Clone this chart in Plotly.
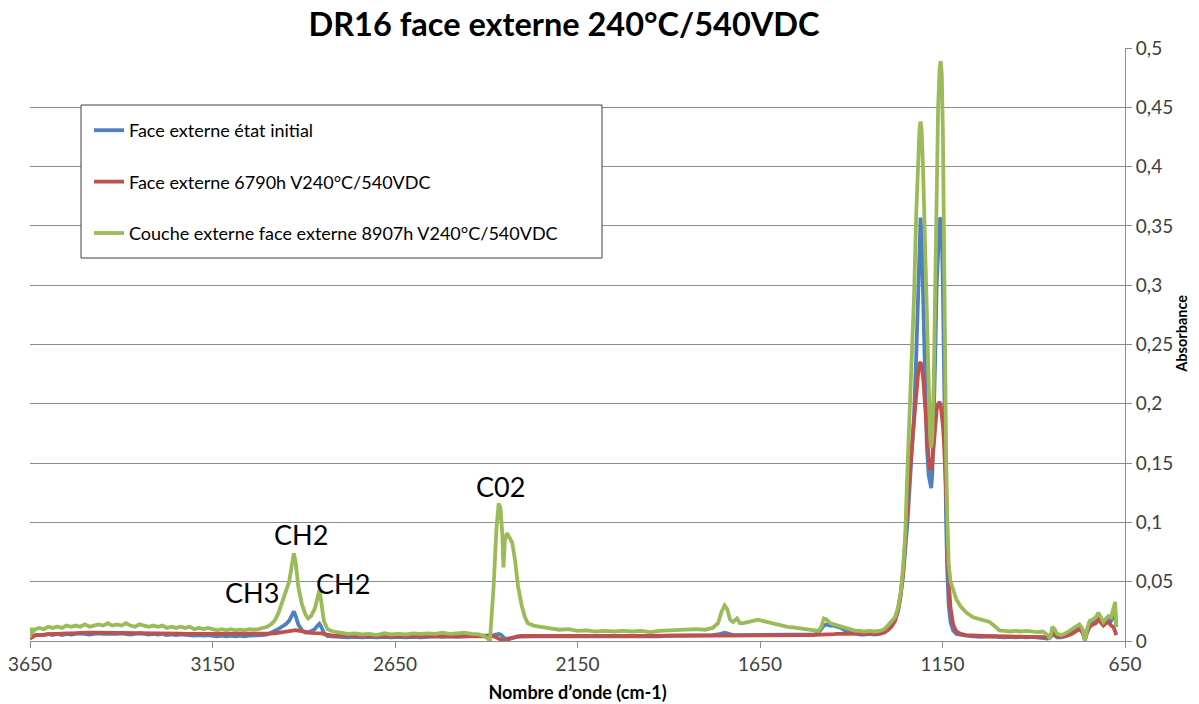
import plotly.graph_objects as go

# ---------------- data ----------------
wavenumber = [
    3650, 3646, 3642, 3635, 3625, 3612, 3600, 3588, 3575, 3562, 3550, 3537, 3525, 3512, 3500, 3487,
    3475, 3462, 3450, 3437, 3425, 3412, 3400, 3387, 3375, 3362, 3350, 3337, 3325, 3312, 3300, 3287,
    3275, 3262, 3250, 3237, 3225, 3212, 3200, 3187, 3175, 3162, 3150, 3137, 3125, 3112, 3100, 3087,
    3075, 3062, 3050, 3037, 3025, 3012, 3000,
    2990, 2980, 2970, 2960, 2950, 2940, 2932, 2927, 2922, 2915, 2905, 2895, 2888, 2880, 2870, 2862,
    2857, 2852, 2845, 2835, 2820, 2800, 2780, 2760, 2740, 2720, 2700, 2680, 2660, 2640, 2620, 2600,
    2580, 2560, 2540, 2520, 2500, 2480, 2460, 2440, 2420, 2405, 2395, 2390, 2380, 2372, 2366, 2361,
    2356, 2353, 2349, 2343, 2336, 2329, 2321, 2313, 2303, 2294, 2286, 2270, 2250, 2225, 2200, 2175,
    2150, 2125, 2100, 2075, 2050, 2025, 2000, 1975, 1950, 1925, 1900, 1875, 1850, 1825, 1800, 1780,
    1765, 1755, 1747, 1740, 1732, 1724, 1713, 1705, 1695, 1680, 1667, 1655, 1643, 1630, 1618, 1605,
    1590, 1575, 1560, 1545, 1530, 1515, 1500, 1490, 1482, 1475, 1467, 1458, 1448, 1438, 1428, 1418,
    1408, 1398, 1388, 1376, 1364, 1350, 1336, 1322, 1310, 1300, 1290, 1280, 1272, 1265, 1258, 1252,
    1246, 1240, 1234, 1228, 1222, 1217, 1213, 1210, 1207, 1203, 1198, 1193, 1188, 1184, 1181, 1178,
    1174, 1170, 1166, 1162, 1158, 1155, 1152, 1149, 1146, 1143, 1140, 1137, 1133, 1128, 1121, 1112,
    1100, 1085, 1066, 1045, 1021, 1005, 994, 980, 965, 950, 935, 920, 905, 890, 875, 862,
    855, 849, 843, 836, 825, 815, 805, 795, 785, 775, 766, 760, 754, 747, 738, 730,
    723, 716, 709, 702, 695, 688, 682, 677, 674,
]

face_initial = [
    .002, .004, .004, .005, .005, .005, .006, .005, .006, .005, .006, .0055, .006, .0065, .006, .0055,
    .006, .0065, .006, .006, .0055, .006, .0065, .006, .0055, .006, .0065, .006, .0055, .006, .0055, .006,
    .005, .0055, .005, .0055, .005, .005, .0045, .005, .0045, .005, .0045, .004, .0045, .004, .0045, .004,
    .0045, .004, .0045, .0045, .005, .005, .0055,
    .007, .008, .010, .012, .014, .017, .022, .025, .021, .014, .009, .007, .007, .008, .010, .013,
    .0145, .012, .007, .004, .0035, .0035, .003, .0035, .003, .0035, .003, .0035, .003, .0035, .003, .0035,
    .003, .0035, .004, .0035, .004, .0035, .004, .004, .0045, .0045, .0045, .0045, .005, .0055, .006, .0055,
    .004, .003, .002, .002, .0025, .003, .0035, .0035, .004, .004, .004, .0035, .004, .0035, .004, .0035,
    .004, .0035, .004, .0035, .004, .0035, .004, .0035, .004, .004, .0045, .0045, .005, .005, .005, .005,
    .0055, .0065, .007, .0065, .0055, .005, .005, .005, .005, .005, .005, .005, .005, .005, .005, .005,
    .005, .005, .005, .005, .005, .0052, .0055, .007, .010, .013, .014, .013, .013, .012, .011, .009,
    .008, .007, .006, .0055, .0055, .006, .0055, .006, .008, .011, .014, .018, .026, .038, .055, .075,
    .100, .130, .160, .190, .240, .300, .345, .357, .340, .280, .210, .165, .140, .131, .129, .140,
    .180, .240, .300, .340, .355, .357, .345, .300, .220, .150, .100, .060, .030, .016, .009, .006,
    .005, .0045, .004, .0035, .004, .0035, .0035, .003, .0035, .003, .0035, .003, .0035, .003, .0025, .002,
    .003, .007, .005, .003, .003, .004, .005, .007, .009, .011, .008, .001, .008, .013, .015, .017,
    .021, .017, .015, .017, .019, .017, .020, .026, .012,
]

face_6790h = [
    .002, .003, .004, .005, .005, .0055, .006, .006, .006, .0065, .0065, .0065, .0068, .007, .007, .007,
    .007, .007, .007, .007, .0068, .0068, .0068, .0068, .0066, .0066, .0066, .0065, .0065, .0065, .0065, .0064,
    .0063, .0063, .0062, .0062, .006, .006, .006, .006, .006, .0058, .0058, .0057, .0057, .0057, .0056, .0056,
    .0056, .0056, .0057, .0057, .0058, .006, .006,
    .0062, .0065, .007, .0075, .008, .0085, .0092, .0095, .0092, .0088, .008, .0075, .007, .0068, .0066, .0068,
    .007, .0065, .0058, .005, .0045, .0045, .0043, .0043, .0042, .0042, .0042, .0042, .0042, .0042, .0043, .0043,
    .0043, .0044, .0044, .0045, .0045, .0045, .0045, .0046, .0046, .0046, .0045, .0044, .004, .003, .002, .001,
    .0005, .000, .0005, .001, .002, .003, .0035, .004, .004, .0042, .0042, .0042, .0042, .0043, .0043, .0043,
    .0043, .0043, .0043, .0043, .0043, .0042, .0042, .0042, .0042, .0042, .0042, .0042, .0043, .0044, .0045, .0045,
    .0046, .0048, .005, .005, .005, .005, .005, .005, .005, .005, .005, .005, .005, .005, .005, .005,
    .005, .005, .005, .005, .005, .005, .0052, .0052, .0053, .0055, .0056, .0057, .0058, .006, .006, .006,
    .006, .006, .006, .006, .006, .006, .006, .0062, .007, .009, .012, .017, .025, .038, .058, .082,
    .112, .142, .165, .185, .205, .225, .234, .235, .232, .222, .200, .175, .155, .146, .144, .150,
    .165, .182, .195, .200, .2015, .199, .192, .182, .168, .150, .125, .090, .050, .028, .014, .008,
    .006, .005, .0045, .0042, .004, .004, .004, .004, .0038, .0038, .0038, .0036, .0036, .0035, .0035, .0033,
    .003, .006, .005, .004, .004, .004, .005, .006, .008, .010, .007, .001, .007, .012, .014, .015,
    .018, .015, .013, .015, .016, .013, .012, .008, .005,
]

couche_8907h = [
    .003, .011, .008, .010, .011, .010, .012, .011, .012, .011, .013, .012, .013, .012, .014, .012,
    .013, .014, .013, .015, .013, .014, .013, .015, .013, .012, .014, .013, .012, .013, .012, .013,
    .011, .012, .011, .012, .011, .012, .010, .011, .010, .011, .010, .009, .010, .009, .010, .009,
    .0095, .009, .010, .0095, .010, .011, .012,
    .014, .017, .023, .032, .039, .050, .065, .074, .066, .046, .031, .022, .019, .021, .027, .038,
    .043, .033, .017, .010, .008, .007, .006, .0065, .0055, .006, .005, .0065, .0055, .006, .0055, .0065,
    .006, .0065, .006, .007, .006, .0065, .007, .006, .0055, .004, .002, .000, .045, .095, .116, .112,
    .090, .062, .085, .091, .087, .083, .068, .046, .030, .020, .015, .013, .012, .011, .0095, .010,
    .0085, .009, .008, .0085, .008, .0085, .008, .0085, .0075, .0085, .009, .0095, .0095, .010, .0095, .011,
    .015, .025, .030, .027, .018, .016, .019, .015, .015, .016, .017, .018, .017, .016, .015, .014,
    .013, .012, .0115, .011, .010, .0095, .009, .0085, .012, .019, .018, .015, .014, .013, .012, .011,
    .010, .009, .0085, .0085, .008, .0085, .008, .0085, .010, .013, .016, .020, .028, .040, .062, .090,
    .145, .190, .240, .290, .360, .410, .432, .438, .430, .395, .330, .260, .205, .172, .163, .172,
    .220, .300, .390, .450, .482, .489, .478, .430, .340, .220, .155, .105, .065, .050, .043, .035,
    .029, .024, .020, .018, .016, .012, .009, .0085, .008, .0085, .008, .0085, .008, .0075, .008, .005,
    .002, .012, .010, .006, .005, .006, .008, .010, .012, .014, .010, .000, .010, .017, .018, .020,
    .024, .019, .016, .019, .021, .020, .026, .033, .012,
]

series_names = [
    "Face externe état initial",
    "Face externe 6790h V240°C/540VDC",
    "Couche externe face externe 8907h V240°C/540VDC",
]

x_tick_values = [3650, 3150, 2650, 2150, 1650, 1150, 650]
x_tick_labels = ["3650", "3150", "2650", "2150", "1650", "1150", "650"]
y_tick_values = [0, 0.05, 0.1, 0.15, 0.2, 0.25, 0.3, 0.35, 0.4, 0.45, 0.5]
y_tick_labels = ["0", "0,05", "0,1", "0,15", "0,2", "0,25", "0,3", "0,35", "0,4", "0,45", "0,5"]

peak_labels = ["C-F", "C02", "CH2", "CH3", "CH2"]
peak_label_x = [1192, 2362, 2908, 3042, 2792]
peak_label_y = [0.511, 0.130, 0.0894, 0.0413, 0.0489]

assert len(wavenumber) == len(face_initial) == len(face_6790h) == len(couche_8907h)

# ---------------- figure ----------------
FONT = "Lato"
colors = ["#4F81BD", "#C0504D", "#9BBB59"]
grid = "#8C8C8C"

fig = go.Figure()
for i, ys in enumerate([face_initial, face_6790h, couche_8907h]):
    fig.add_trace(go.Scatter(
        x=wavenumber, y=ys, mode="lines", name=series_names[i],
        line=dict(color=colors[i], width=3.8),
        legendgroup=f"g{i}",
    ))

for t, xv, yv in zip(peak_labels, peak_label_x, peak_label_y):
    fig.add_annotation(x=xv, y=yv, xref="x", yref="y", text=t, showarrow=False,
                       xanchor="center", yanchor="middle",
                       font=dict(family=FONT, size=27, color="#000000"))

# legend frame
fig.add_shape(type="rect", xref="paper", yref="paper",
              x0=(81 - 30) / 1095, x1=(602 - 30) / 1095,
              y0=(641 - 258) / 593, y1=(641 - 105) / 593,
              line=dict(color="#404040", width=1), fillcolor="white", layer="above")

fig.update_layout(
    width=1199, height=704,
    margin=dict(l=30, r=74, t=48, b=63, autoexpand=False),
    paper_bgcolor="white", plot_bgcolor="white",
    font=dict(family=FONT, color="#404040"),
    title=dict(text="<b>DR16 face externe 240°C/540VDC</b>", x=564 / 1199, xanchor="center",
               y=1 - 25 / 704, yanchor="middle", xref="container", yref="container",
               font=dict(family=FONT, size=32.5, color="#000000")),
    showlegend=True,
    legend=dict(x=(89 - 30) / 1095, y=(641 - 112) / 593, xanchor="left", yanchor="top",
                bgcolor="rgba(0,0,0,0)", borderwidth=0, tracegroupgap=25,
                font=dict(family=FONT, size=18, color="#000000")),
    xaxis=dict(range=[3650, 650], tickmode="array", tickvals=x_tick_values, ticktext=x_tick_labels,
               automargin=False,
               showgrid=False, zeroline=False, showline=True, linecolor=grid, linewidth=1,
               ticks="outside", ticklen=6, tickcolor=grid,
               tickfont=dict(family=FONT, size=19, color="#404040"),
               title=dict(text="<b>Nombre d’onde (cm-1)</b>", standoff=12,
                          font=dict(family=FONT, size=18, color="#000000"))),
    yaxis=dict(range=[0, 0.5], side="right", tickmode="array", tickvals=y_tick_values,
               automargin=False,
               ticktext=y_tick_labels, showgrid=True, gridcolor=grid, gridwidth=1,
               zeroline=False, showline=True, linecolor=grid, linewidth=1,
               ticks="outside", ticklen=6, tickcolor=grid,
               tickfont=dict(family=FONT, size=19, color="#404040"),
               title=dict(text="&nbsp;&nbsp;&nbsp;&nbsp;&nbsp;&nbsp;<b>Absorbance</b>", standoff=0,
                          font=dict(family=FONT, size=14.5, color="#000000"))),
)

fig.write_html("out.html", config={"displayModeBar": False},
               post_script="document.body.style.margin='0';")
